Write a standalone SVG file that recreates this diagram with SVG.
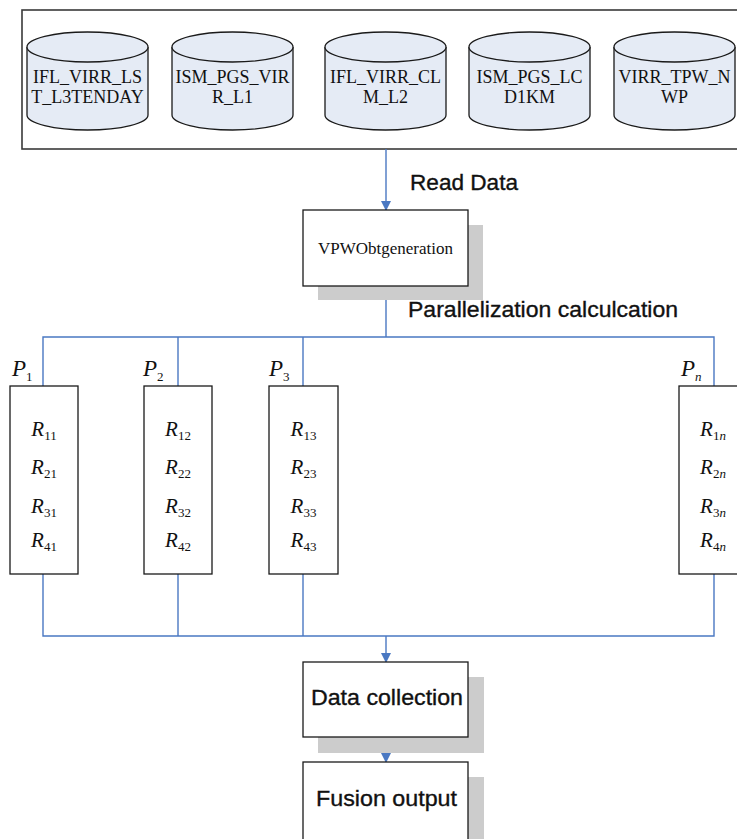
<svg xmlns="http://www.w3.org/2000/svg" width="737" height="839" viewBox="0 0 737 839">
<style>
.frame{fill:none;stroke:#3a3a3a;stroke-width:1.6}
.cyl{fill:#e5ebf5;stroke:#1a1a1a;stroke-width:1.3}
.ct{font-family:"Liberation Serif",serif;font-size:18px;fill:#111;text-anchor:middle}
.box{fill:#fff;stroke:#1a1a1a;stroke-width:1.3}
.sh{fill:#cccccc}
.conn{fill:none;stroke:#4a78c2;stroke-width:1.4}
.lab{font-family:"Liberation Sans",Arial,sans-serif;font-size:22px;fill:#111;stroke:#111;stroke-width:0.35}
.bt{font-family:"Liberation Sans",Arial,sans-serif;font-size:22px;fill:#111;stroke:#111;stroke-width:0.35;text-anchor:middle}
.pl{font-family:"Liberation Serif",serif;font-style:italic;font-size:23px;fill:#111}
.rl{font-family:"Liberation Serif",serif;font-style:italic;font-size:21px;fill:#111;text-anchor:middle}
.sub{font-style:normal;font-size:13px}
.subi{font-style:italic;font-size:13px}
</style>
<defs>
<marker id="arr" markerWidth="10" markerHeight="10" refX="9" refY="5" orient="auto" markerUnits="userSpaceOnUse">
<path d="M0,0 L10,5 L0,10 Z" fill="#4a78c2"/>
</marker>
</defs>

<g id="sources">
<rect class="frame" x="22" y="10" width="730" height="139"/>
<g id="db1">
<path class="cyl" d="M27,47 L27,115 A60.5,15 0 0 0 148,115 L148,47"/>
<ellipse class="cyl" cx="87.5" cy="47" rx="60.5" ry="15"/>
<text class="ct" x="87.5" y="83">IFL_VIRR_LS</text>
<text class="ct" x="87.5" y="103">T_L3TENDAY</text>
</g>
<g id="db2">
<path class="cyl" d="M172,47 L172,115 A60.5,15 0 0 0 293,115 L293,47"/>
<ellipse class="cyl" cx="232.5" cy="47" rx="60.5" ry="15"/>
<text class="ct" x="232.5" y="83">ISM_PGS_VIR</text>
<text class="ct" x="232.5" y="103">R_L1</text>
</g>
<g id="db3">
<path class="cyl" d="M325,47 L325,115 A60.5,15 0 0 0 446,115 L446,47"/>
<ellipse class="cyl" cx="385.5" cy="47" rx="60.5" ry="15"/>
<text class="ct" x="385.5" y="83">IFL_VIRR_CL</text>
<text class="ct" x="385.5" y="103">M_L2</text>
</g>
<g id="db4">
<path class="cyl" d="M469,47 L469,115 A60.5,15 0 0 0 590,115 L590,47"/>
<ellipse class="cyl" cx="529.5" cy="47" rx="60.5" ry="15"/>
<text class="ct" x="529.5" y="83">ISM_PGS_LC</text>
<text class="ct" x="529.5" y="103">D1KM</text>
</g>
<g id="db5">
<path class="cyl" d="M614,47 L614,115 A60.5,15 0 0 0 735,115 L735,47"/>
<ellipse class="cyl" cx="674.5" cy="47" rx="60.5" ry="15"/>
<text class="ct" x="674.5" y="83">VIRR_TPW_N</text>
<text class="ct" x="674.5" y="103">WP</text>
</g>
</g>

<g id="connectors">
<line class="conn" x1="386" y1="149" x2="386" y2="210" marker-end="url(#arr)"/>
<line class="conn" x1="386" y1="286" x2="386" y2="337"/>
<polyline class="conn" points="43,386 43,337 714,337 714,386"/>
<line class="conn" x1="178" y1="337" x2="178" y2="386"/>
<line class="conn" x1="303" y1="337" x2="303" y2="386"/>
<polyline class="conn" points="43,574 43,636 714,636 714,574"/>
<line class="conn" x1="178" y1="574" x2="178" y2="636"/>
<line class="conn" x1="303" y1="574" x2="303" y2="636"/>
<line class="conn" x1="386" y1="636" x2="386" y2="662" marker-end="url(#arr)"/>
<line class="conn" x1="386" y1="737" x2="386" y2="762" marker-end="url(#arr)"/>
</g>

<text class="lab" x="410" y="190" textLength="108" lengthAdjust="spacingAndGlyphs">Read Data</text>
<text class="lab" x="408" y="317" textLength="270" lengthAdjust="spacingAndGlyphs">Parallelization calculcation</text>

<g id="vpwo">
<rect class="sh" x="318" y="225" width="165" height="75"/>
<rect class="box" x="303" y="210" width="165" height="76"/>
<text x="385.5" y="254" font-family="Liberation Serif, serif" font-size="17" text-anchor="middle" fill="#111">VPWObtgeneration</text>
</g>

<g id="p1">
<text class="pl" x="12" y="376">P<tspan class="sub" dy="5">1</tspan></text>
<rect class="box" x="10" y="386" width="68" height="188"/>
<text class="rl" x="44" y="436">R<tspan class="sub" dy="4">11</tspan></text>
<text class="rl" x="44" y="474">R<tspan class="sub" dy="4">21</tspan></text>
<text class="rl" x="44" y="513">R<tspan class="sub" dy="4">31</tspan></text>
<text class="rl" x="44" y="547">R<tspan class="sub" dy="4">41</tspan></text>
</g>
<g id="p2">
<text class="pl" x="143" y="376">P<tspan class="sub" dy="5">2</tspan></text>
<rect class="box" x="144" y="386" width="68" height="188"/>
<text class="rl" x="178" y="436">R<tspan class="sub" dy="4">12</tspan></text>
<text class="rl" x="178" y="474">R<tspan class="sub" dy="4">22</tspan></text>
<text class="rl" x="178" y="513">R<tspan class="sub" dy="4">32</tspan></text>
<text class="rl" x="178" y="547">R<tspan class="sub" dy="4">42</tspan></text>
</g>
<g id="p3">
<text class="pl" x="269" y="376">P<tspan class="sub" dy="5">3</tspan></text>
<rect class="box" x="269" y="386" width="69" height="188"/>
<text class="rl" x="303.5" y="436">R<tspan class="sub" dy="4">13</tspan></text>
<text class="rl" x="303.5" y="474">R<tspan class="sub" dy="4">23</tspan></text>
<text class="rl" x="303.5" y="513">R<tspan class="sub" dy="4">33</tspan></text>
<text class="rl" x="303.5" y="547">R<tspan class="sub" dy="4">43</tspan></text>
</g>
<g id="pn">
<text class="pl" x="681" y="376">P<tspan class="subi" dy="5">n</tspan></text>
<rect class="box" x="679" y="386" width="70" height="188"/>
<text class="rl" x="713" y="436">R<tspan class="sub" dy="4">1</tspan><tspan class="subi">n</tspan></text>
<text class="rl" x="713" y="474">R<tspan class="sub" dy="4">2</tspan><tspan class="subi">n</tspan></text>
<text class="rl" x="713" y="513">R<tspan class="sub" dy="4">3</tspan><tspan class="subi">n</tspan></text>
<text class="rl" x="713" y="547">R<tspan class="sub" dy="4">4</tspan><tspan class="subi">n</tspan></text>
</g>

<g id="collect">
<rect class="sh" x="318" y="677" width="166" height="76"/>
<rect class="box" x="303" y="662" width="165" height="75"/>
<text class="bt" x="387" y="705" textLength="152" lengthAdjust="spacingAndGlyphs">Data collection</text>
</g>
<g id="fusion">
<rect class="sh" x="318" y="777" width="166" height="70"/>
<rect class="box" x="303" y="762" width="165" height="78"/>
<text class="bt" x="386.5" y="806" textLength="141" lengthAdjust="spacingAndGlyphs">Fusion output</text>
</g>
</svg>
